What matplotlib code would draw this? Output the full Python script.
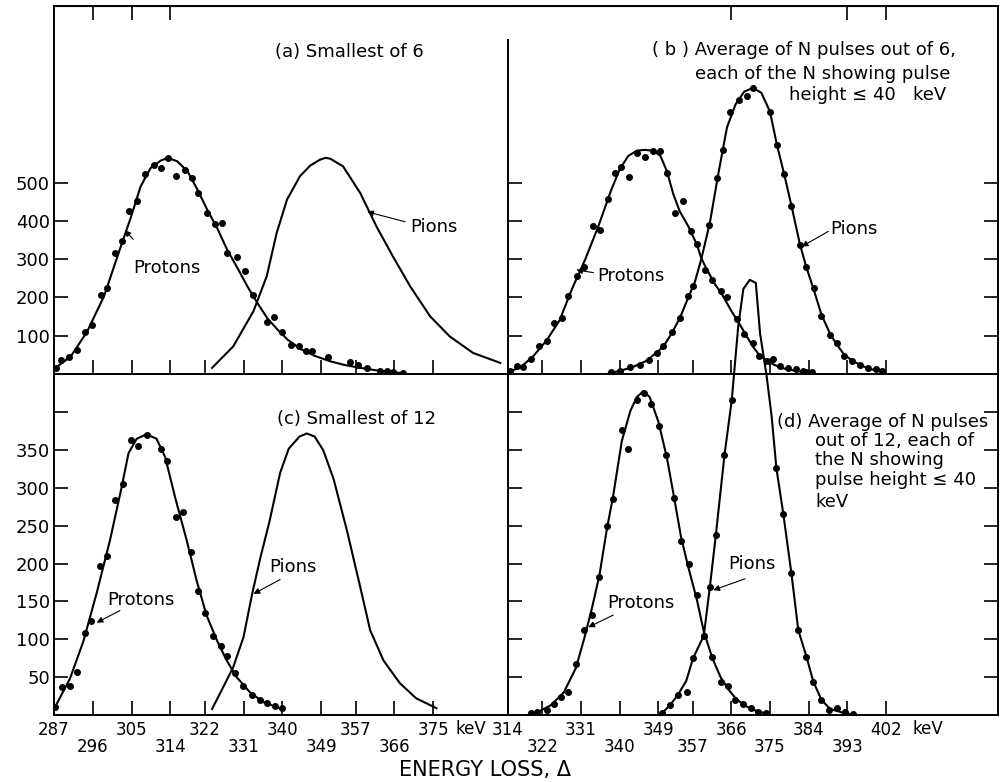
import matplotlib.pyplot as plt
import numpy as np

# ---------------- data (keV, counts) ----------------
# (a) smallest of 6
a_prot_pts_x = [287.4, 288.7, 290.5, 292.3, 294.1, 295.9, 297.8, 299.4, 301.2, 302.9, 304.4, 306.2,
                308.1, 310.1, 311.9, 313.5, 315.3, 317.3, 319.1, 320.4, 322.6, 324.4, 325.9, 327.2,
                329.4, 331.3, 333.1, 336.5, 338.1, 340.0, 342.0, 343.9, 345.4, 347.0, 350.6, 355.7,
                357.6, 359.7, 362.7, 364.3, 365.7, 368.0]
a_prot_pts_y = [15, 37, 44, 63, 111, 129, 207, 225, 316, 347, 425, 451,
                523, 547, 538, 565, 517, 532, 512, 473, 422, 393, 396, 316,
                306, 268, 207, 137, 149, 109, 76, 74, 59, 59, 45, 32,
                24, 16, 8, 8, 6, 3]
a_prot_fit_x = [287, 290.9, 294.7, 298.6, 302.5, 304.8, 307.1, 309.4, 311.8, 313.5, 315.6, 318.0,
                320.3, 322.6, 324.9, 327.2, 329.6, 331.9, 334.2, 336.5, 338.9, 341.2, 344.3, 347.4,
                351.2, 354.3, 357.6, 362.7, 367.3]
a_prot_fit_y = [13, 46, 111, 203, 333, 408, 490, 538, 558, 565, 556, 530,
                482, 429, 381, 325, 277, 229, 186, 146, 116, 90, 65, 48,
                33, 24, 17, 8, 3]
a_pion_fit_x = [323.7, 328.6, 333.3, 336.4, 338.7, 341.1, 344.1, 346.5, 348.7, 350.0, 351.1, 354.1,
                358.1, 361.9, 365.7, 369.7, 374.3, 378.9, 384.3, 390.6]
a_pion_fit_y = [16, 72, 164, 256, 369, 456, 517, 545, 560, 565, 563, 543,
                473, 385, 307, 229, 151, 98, 55, 29]

# (b) average of N pulses out of 6
b_prot_pts_x = [314.5, 316.0, 317.6, 319.4, 321.2, 323.0, 324.8, 326.5, 328.0, 330.0, 331.7, 333.7,
                335.4, 337.2, 338.8, 340.3, 342.2, 344.0, 346.0, 347.7, 349.4, 351.1, 352.9, 354.7,
                356.5, 358.1, 359.9, 361.6, 363.5, 364.9, 367.4, 369.0, 371.0, 372.5, 374.2, 375.8,
                377.3, 379.3, 381.1, 382.6, 383.5, 384.7]
b_prot_pts_y = [9, 22, 18, 39, 72, 85, 133, 146, 203, 255, 281, 388,
                377, 458, 525, 540, 515, 579, 567, 582, 584, 525, 421, 451,
                375, 341, 273, 247, 218, 201, 144, 105, 82, 48, 33, 39,
                20, 15, 13, 7, 5, 5]
b_prot_fit_x = [314, 317, 320, 323, 326, 329, 332, 335, 338, 340, 342, 344, 346, 348, 349.5, 351,
                352.5, 354, 356, 358, 359, 360, 362, 364, 366, 368, 369.5, 371, 372.5, 374, 376,
                378, 381, 384]
b_prot_fit_y = [5, 18, 48, 88, 140, 225, 300, 385, 480, 535, 570, 584, 586, 583, 570, 530,
                470, 425, 386, 338, 303, 280, 238, 205, 165, 129, 100, 72, 50, 37, 24,
                15, 8, 4]
b_pion_pts_x = [338.0, 340.1, 342.4, 344.7, 346.8, 348.6, 350.2, 352.3, 354.0, 355.8, 357.1, 360.9,
                362.6, 364.1, 365.7, 367.9, 369.7, 371.1, 375.0, 376.6, 378.3, 380.0, 382.0, 383.4,
                385.2, 387.0, 389.0, 390.5, 392.2, 394.0, 396.0, 397.9, 399.7, 401.2]
b_pion_pts_y = [4, 9, 18, 24, 37, 56, 72, 111, 146, 205, 229, 390,
                512, 586, 686, 715, 726, 748, 686, 599, 523, 440, 338, 280,
                225, 152, 103, 81, 48, 35, 24, 15, 13, 7]
b_pion_fit_x = [337.5, 340, 343, 346, 348.6, 350.2, 352.2, 354, 355.8, 357.5, 359, 361, 363, 365,
                367, 369, 371, 373, 375, 376.6, 378.3, 380, 382, 383.4, 385.2, 387, 389, 390.5,
                392.2, 394, 396, 398, 401]
b_pion_fit_y = [2, 8, 18, 33, 56, 72, 108, 146, 195, 240, 300, 395, 525, 645,
                705, 738, 748, 735, 686, 600, 523, 440, 338, 282, 220, 155, 105, 78,
                52, 36, 24, 14, 6]

# (c) smallest of 12
c_prot_pts_x = [287.2, 288.8, 290.7, 292.4, 294.2, 295.7, 297.7, 299.2, 301.2, 303.1, 304.8, 306.6,
                308.5, 311.8, 313.3, 315.3, 317.0, 318.8, 320.5, 322.1, 324.0, 325.8, 327.1, 329.0,
                330.8, 332.9, 334.8, 336.4, 338.3, 339.9]
c_prot_pts_y = [11, 37, 38, 57, 108, 124, 197, 210, 284, 305, 363, 355,
                370, 352, 335, 262, 268, 216, 164, 135, 105, 91, 78, 56,
                38, 26, 20, 16, 12, 9]
c_prot_fit_x = [287.2, 290.7, 293.8, 296.9, 300.0, 302.7, 304.3, 306.2, 308.5, 310.8, 312.8, 315.1,
                317.8, 320.1, 322.4, 324.8, 327.1, 329.4, 332.5, 335.6, 340.3]
c_prot_fit_y = [10, 48, 97, 161, 231, 301, 346, 365, 371, 365, 341, 288,
                231, 178, 132, 99, 72, 50, 30, 17, 7]
c_pion_fit_x = [323.7, 326.3, 328.6, 331, 333, 335, 337, 339.5, 341.5, 344, 345.7, 347.5, 349.5,
                351.9, 355, 358.1, 360.4, 363.5, 367.3, 371.1, 375.8]
c_pion_fit_y = [8, 37, 63, 103, 160, 210, 255, 320, 352, 368, 372, 368, 350,
                312, 244, 169, 112, 72, 42, 22, 9]

# (d) average of N pulses out of 12
d_prot_pts_x = [319.4, 320.7, 323.0, 324.8, 326.3, 328.0, 329.8, 331.7, 333.5, 335.3, 337.0, 338.5,
                340.5, 342.0, 344.0, 345.7, 347.4, 349.2, 350.9, 352.6, 354.3, 356.2, 357.9, 359.6,
                361.6, 363.5, 365.3, 366.8, 368.8, 370.7, 372.3, 374.1]
d_prot_pts_y = [3, 4, 6, 15, 24, 31, 67, 112, 132, 182, 250, 285,
                377, 351, 416, 425, 411, 382, 343, 287, 230, 199, 159, 104,
                77, 44, 38, 20, 15, 9, 4, 2]
d_prot_fit_x = [318.5, 321, 324, 327, 329.8, 331.7, 333.5, 335.3, 337, 338.5, 340.5, 342.5, 344,
                345.5, 347, 349, 351, 352.6, 354.3, 356, 358, 359.6, 361.6, 363.5, 365.3, 367,
                369, 371, 374]
d_prot_fit_y = [0, 4, 13, 30, 62, 100, 140, 185, 245, 290, 362, 402, 420,
                428, 420, 388, 340, 290, 235, 195, 152, 110, 75, 50, 34, 22,
                13, 7, 2]
d_pion_pts_x = [349.8, 351.7, 353.5, 355.6, 357.1, 359.6, 361.0, 362.4, 364.4, 366.1, 376.5, 378.1,
                380.0, 381.6, 383.5, 385.1, 387.0, 388.8, 390.5, 392.5, 394.4]
d_pion_pts_y = [3, 13, 26, 31, 75, 104, 169, 238, 343, 416, 326, 266,
                187, 112, 77, 44, 20, 6, 9, 4, 1]
d_pion_fit_x = [349.5, 351.7, 353.5, 355.5, 357.1, 359.6, 361, 362.4, 364.4, 366.1, 367.6, 368.8,
                370.3, 371.7, 372.7, 374.2, 375.4, 376.5, 378.1, 380, 381.6, 383.5, 385.1, 387,
                389, 392, 395]
d_pion_fit_y = [0, 13, 26, 45, 75, 105, 169, 238, 343, 416, 513, 563,
                575, 571, 504, 449, 394, 326, 266, 187, 112, 77, 44, 20,
                8, 3, 0]

left_ticks = [287, 296, 305, 314, 322, 331, 340, 349, 357, 366, 375]
right_ticks = [314, 322, 331, 340, 349, 357, 366, 375, 384, 393, 402]
top_yticks = [100, 200, 300, 400, 500]
bot_yticks = [50, 100, 150, 200, 250, 300, 350, 400]
bot_ylabels = ['50', '100', '150', '200', '250', '300', '350', '']

# -------------------------------------------------------------------------
W, H = 1000, 782
fig = plt.figure(figsize=(W / 100, H / 100), dpi=100)


def box(px0, py0, px1, py1):
    # pixel box of the reference -> figure fraction rect
    return [px0 / W, 1 - py1 / H, (px1 - px0) / W, (py1 - py0) / H]


def fxy(px, py):
    return px / W, 1 - py / H


ax_a = fig.add_axes(box(54, 6, 508, 374))
ax_b = fig.add_axes(box(508, 6, 998, 374))
ax_c = fig.add_axes(box(54, 374, 508, 715))
ax_d = fig.add_axes(box(508, 374, 998, 715))

for ax in (ax_a, ax_b, ax_c, ax_d):
    ax.set_facecolor('none')
    for s in ax.spines.values():
        s.set_linewidth(1.4)
    ax.tick_params(direction='in', length=10, width=1.2, labelsize=13, pad=3)

ax_a.set_xlim(287, 392.4)
ax_c.set_xlim(287, 392.4)
ax_b.set_xlim(314, 428.1)
ax_d.set_xlim(314, 428.1)
ax_a.set_ylim(0, 962)
ax_b.set_ylim(0, 962)
ax_c.set_ylim(0, 450.6)
ax_d.set_ylim(0, 450.6)

# spines shared by neighbouring panels
ax_a.spines['right'].set_visible(False)
ax_c.spines['right'].set_visible(False)
ax_c.spines['top'].set_visible(False)
ax_d.spines['top'].set_visible(False)
ax_b.spines['left'].set_bounds(0, 874)

# y ticks
ax_a.set_yticks(top_yticks)
ax_b.set_yticks(top_yticks)
ax_b.tick_params(labelleft=False, right=True)
ax_c.set_yticks(bot_yticks)
ax_c.set_yticklabels(bot_ylabels)
ax_d.set_yticks(bot_yticks)
ax_d.tick_params(labelleft=False, right=True)

# x ticks
ax_a.set_xticks(left_ticks[1:])
ax_a.tick_params(labelbottom=False)
ax_b.set_xticks(right_ticks[1:])
ax_b.tick_params(labelbottom=False)
for ax, ticks in ((ax_c, left_ticks), (ax_d, right_ticks)):
    ax.set_xticks(ticks)
    ax.set_xticklabels([str(v) if i % 2 == 0 else '\n' + str(v) for i, v in enumerate(ticks)])
    ax.tick_params(axis='x', labelsize=12, pad=4)
    for lbl in ax.get_xticklabels():
        lbl.set_linespacing(0.95)

sec = ax_a.secondary_xaxis('top')
sec.set_xticks([296, 305, 314])
sec.tick_params(direction='in', length=10, width=1.2, labeltop=False)
sec = ax_b.secondary_xaxis('top')
sec.set_xticks([366, 393, 402])
sec.tick_params(direction='in', length=10, width=1.2, labeltop=False)

ax_c.annotate('keV', xy=(375, 0), xytext=(22, -14), textcoords='offset pixels',
              fontsize=12, va='center', ha='left', annotation_clip=False)
ax_d.annotate('keV', xy=(402, 0), xytext=(27, -14), textcoords='offset pixels',
              fontsize=12, va='center', ha='left', annotation_clip=False)

# curves and points
lw = 1.5
ms = 4
ax_a.plot(a_prot_fit_x, a_prot_fit_y, color='k', lw=lw)
ax_a.plot(a_prot_pts_x, a_prot_pts_y, 'o', color='k', ms=ms)
ax_a.plot(a_pion_fit_x, a_pion_fit_y, color='k', lw=lw)

ax_b.plot(b_prot_fit_x, b_prot_fit_y, color='k', lw=lw)
ax_b.plot(b_prot_pts_x, b_prot_pts_y, 'o', color='k', ms=ms)
ax_b.plot(b_pion_fit_x, b_pion_fit_y, color='k', lw=lw)
ax_b.plot(b_pion_pts_x, b_pion_pts_y, 'o', color='k', ms=ms)

ax_c.plot(c_prot_fit_x, c_prot_fit_y, color='k', lw=lw)
ax_c.plot(c_prot_pts_x, c_prot_pts_y, 'o', color='k', ms=ms)
ax_c.plot(c_pion_fit_x, c_pion_fit_y, color='k', lw=lw)

ax_d.plot(d_prot_fit_x, d_prot_fit_y, color='k', lw=lw)
ax_d.plot(d_prot_pts_x, d_prot_pts_y, 'o', color='k', ms=ms)
ax_d.plot(d_pion_fit_x, d_pion_fit_y, color='k', lw=lw, clip_on=False)
ax_d.plot(d_pion_pts_x, d_pion_pts_y, 'o', color='k', ms=ms)

# pointer arrows
arw = dict(arrowstyle='-|>', color='k', lw=0.8, mutation_scale=9, shrinkA=0, shrinkB=0)
ax_a.annotate('', xy=(303.4, 376), xytext=(305.4, 352), arrowprops=arw)
ax_a.annotate('', xy=(359.7, 424), xytext=(368.5, 398), arrowprops=arw)
ax_b.annotate('', xy=(329.9, 272), xytext=(333.9, 265), arrowprops=arw)
ax_b.annotate('', xy=(382.4, 333), xytext=(388.6, 373), arrowprops=arw)
ax_c.annotate('', xy=(296.9, 122), xytext=(302.3, 138), arrowprops=arw)
ax_c.annotate('', xy=(333.3, 160), xytext=(339.5, 179), arrowprops=arw)
ax_d.annotate('', xy=(332.7, 116), xytext=(338.5, 132), arrowprops=arw)
ax_d.annotate('', xy=(361.8, 165), xytext=(369.2, 180), arrowprops=arw)

# labels
fs = 13
texts = [
    (275, 52, '(a) Smallest of 6'),
    (133, 268, 'Protons'),
    (410, 227, 'Pions'),
    (652, 50, '( b ) Average of N pulses out of 6,'),
    (695, 74, 'each of the N showing pulse'),
    (789, 95, 'height \u2264 40   keV'),
    (597, 276, 'Protons'),
    (830, 229, 'Pions'),
    (277, 419, '(c) Smallest of 12'),
    (107, 600, 'Protons'),
    (269, 567, 'Pions'),
    (777, 422, '(d) Average of N pulses'),
    (815, 441, 'out of 12, each of'),
    (815, 460, 'the N showing'),
    (815, 480, 'pulse height \u2264 40'),
    (815, 502, 'keV'),
    (607, 603, 'Protons'),
    (728, 564, 'Pions'),
]
for px, py, s in texts:
    fig.text(*fxy(px, py), s, fontsize=fs, ha='left', va='center')

fig.text(*fxy(485, 770), 'ENERGY LOSS, \u0394', fontsize=15, ha='center', va='center')

fig.savefig('out.png', dpi=100)
